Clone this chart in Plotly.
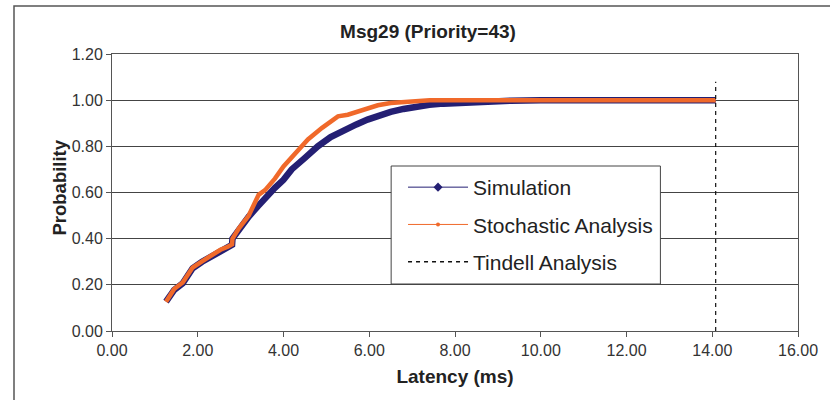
import plotly.graph_objects as go

# ---- data ----
sim_x = [1.26, 1.45, 1.65, 1.88, 2.10, 2.30, 2.53, 2.70, 2.80, 2.81, 2.96, 3.19, 3.40, 3.57,
         3.80, 4.00, 4.19, 4.50, 4.80, 5.10, 5.42, 5.70, 5.96, 6.20, 6.50, 6.80, 7.11, 7.40,
         7.73, 8.00, 8.34, 8.80, 9.30, 10.00, 12.00, 14.08]
sim_y = [0.127, 0.178, 0.207, 0.272, 0.300, 0.322, 0.350, 0.362, 0.373, 0.400, 0.440, 0.496,
         0.540, 0.577, 0.620, 0.655, 0.700, 0.750, 0.800, 0.840, 0.872, 0.895, 0.916, 0.932,
         0.949, 0.962, 0.973, 0.980, 0.985, 0.988, 0.991, 0.995, 0.998, 1.000, 1.000, 1.000]

stoch_x = [1.26, 1.45, 1.65, 1.88, 2.10, 2.30, 2.53, 2.70, 2.80, 2.81, 2.96, 3.19, 3.42, 3.57,
           3.80, 4.00, 4.27, 4.57, 4.90, 5.10, 5.27, 5.50, 5.70, 5.96, 6.20, 6.50, 6.88, 7.41,
           8.00, 9.00, 14.08]
stoch_y = [0.127, 0.182, 0.210, 0.275, 0.302, 0.325, 0.352, 0.365, 0.375, 0.400, 0.445, 0.500,
           0.590, 0.610, 0.660, 0.713, 0.770, 0.830, 0.880, 0.910, 0.930, 0.937, 0.950, 0.967,
           0.978, 0.988, 0.995, 1.000, 1.000, 1.000, 1.000]

tindell_x = [14.08, 14.08]
tindell_y = [0.0, 1.08]

x_ticks = [0, 2, 4, 6, 8, 10, 12, 14, 16]
y_ticks = [0.0, 0.2, 0.4, 0.6, 0.8, 1.0, 1.2]

NAVY = "#241F73"
ORANGE = "#F0692A"
FONT = "Liberation Sans, Arial, sans-serif"

fig = go.Figure()

# data traces (thick, no legend)
fig.add_trace(go.Scatter(x=sim_x, y=sim_y, mode="lines", line=dict(color=NAVY, width=6.5),
                         showlegend=False, hoverinfo="skip"))
fig.add_trace(go.Scatter(x=stoch_x, y=stoch_y, mode="lines", line=dict(color=ORANGE, width=4.5),
                         showlegend=False, hoverinfo="skip"))
fig.add_trace(go.Scatter(x=tindell_x, y=tindell_y, mode="lines",
                         line=dict(color="#111", width=1.2, dash="4px,4px"),
                         showlegend=False, hoverinfo="skip"))

# legend entries
fig.add_trace(go.Scatter(x=[None], y=[None], mode="lines+markers", name="Simulation",
                         line=dict(color=NAVY, width=1),
                         marker=dict(symbol="diamond", size=7, color=NAVY),
                         legendgroup="a"))
fig.add_trace(go.Scatter(x=[None], y=[None], mode="lines+markers", name="Stochastic Analysis",
                         line=dict(color=ORANGE, width=1),
                         marker=dict(symbol="circle", size=4, color=ORANGE),
                         legendgroup="b"))
fig.add_trace(go.Scatter(x=[None], y=[None], mode="lines", name="Tindell Analysis",
                         line=dict(color="#111", width=1.5, dash="4px,4px"),
                         legendgroup="c"))

L, R, T, B = 112, 25, 54, 69
W, H = 830, 400
pw, ph = W - L - R, H - T - B

def px_x(p):
    return (p - L) / pw

def px_y(p):
    return (H - B - p) / ph

fig.update_layout(
    width=W, height=H,
    margin=dict(l=L, r=R, t=T, b=B),
    paper_bgcolor="white", plot_bgcolor="white",
    font=dict(family=FONT, color="#222"),
    title=dict(text="<b>Msg29 (Priority=43)</b>", xref="container", x=428 / W,
               xanchor="center", yref="container", y=1 - 31 / H, yanchor="middle",
               font=dict(size=19, color="#222")),
    xaxis=dict(range=[0, 16], tickvals=x_ticks, ticktext=[f"{v:.2f}" for v in x_ticks],
               showgrid=False, zeroline=False, showline=True, linecolor="#555", linewidth=1,
               mirror=True, ticks="outside", ticklen=5, tickcolor="#555",
               tickfont=dict(size=16, color="#333"),
               title=dict(text="<b>Latency (ms)</b>", font=dict(size=19, color="#222"),
                          standoff=11)),
    yaxis=dict(range=[0, 1.2], tickvals=y_ticks, ticktext=[f"{v:.2f}" for v in y_ticks],
               showgrid=True, gridcolor="#444", gridwidth=1, zeroline=False,
               showline=True, linecolor="#555", linewidth=1, mirror=True,
               ticks="outside", ticklen=5, tickcolor="#555",
               tickfont=dict(size=16, color="#333")),
    legend=dict(x=px_x(406), y=px_y(167), xanchor="left", yanchor="top",
                bgcolor="rgba(0,0,0,0)", borderwidth=0,
                font=dict(size=21, color="#222"), itemwidth=60,
                tracegroupgap=7),
    annotations=[
        dict(text="<b>Probability</b>", textangle=-90, xref="paper", yref="paper",
             x=px_x(58), y=px_y(188), xanchor="center", yanchor="middle",
             showarrow=False, font=dict(size=18.5, color="#222")),
    ],
    shapes=[
        # outer chart border
        dict(type="rect", xref="paper", yref="paper",
             x0=px_x(13), x1=px_x(840), y0=px_y(410), y1=px_y(6),
             line=dict(color="#555", width=1.5), fillcolor="rgba(0,0,0,0)", layer="below"),
        # legend box
        dict(type="rect", xref="paper", yref="paper",
             x0=px_x(394), x1=px_x(666), y0=px_y(284), y1=px_y(166),
             line=dict(color="#444", width=1), fillcolor="white", layer="above"),
    ],
)

fig.write_html("out.html")
